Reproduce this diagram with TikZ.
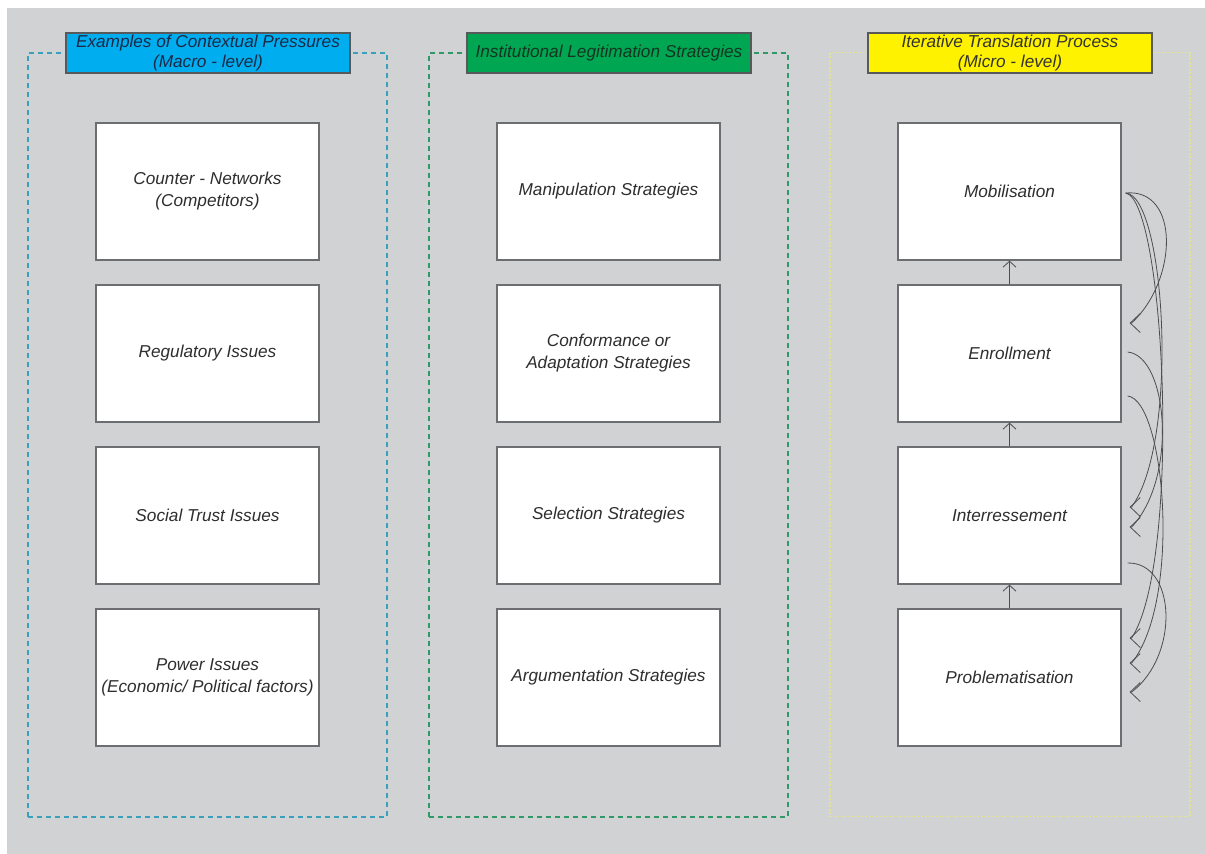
\documentclass[tikz,border=0pt]{standalone}
\usepackage{fontspec}
\setmainfont{Liberation Sans}
\usetikzlibrary{arrows.meta,calc}

\definecolor{panelgray}{HTML}{D1D2D4}
\definecolor{boxline}{HTML}{6D6E71}
\definecolor{headline}{HTML}{58595B}
\definecolor{hblue}{HTML}{00AEEF}
\definecolor{hgreen}{HTML}{00A651}
\definecolor{hyellow}{HTML}{FFF200}
\definecolor{fblue}{HTML}{3A9FBA}
\definecolor{fgreen}{HTML}{2F9A68}
\definecolor{fyellow}{HTML}{E4E394}
\definecolor{curvecol}{HTML}{4D4D4F}

\tikzset{
  stagebox/.style={draw=boxline, line width=1.3pt, fill=white,
    minimum width=223pt, minimum height=137pt, inner sep=0pt,
    align=center, font=\fontsize{17.2}{22}\selectfont\itshape, text=black!82},
  headbox/.style={draw=headline, line width=1.1pt,
    minimum width=284pt, minimum height=40pt, inner sep=0pt,
    align=center, font=\fontsize{17.2}{20}\selectfont\itshape},
  frame/.style={minimum width=#1, minimum height=764pt, inner sep=0pt},
  stepup/.style={draw=curvecol, line width=0.8pt,
    -{Straight Barb[length=6pt,width=13pt,line width=0.8pt]}},
  loopback/.style={draw=curvecol, line width=0.8pt,
    -{Straight Barb[length=10pt,width=19pt,line width=0.8pt]}}
}

\begin{document}
\begin{tikzpicture}[x=1pt,y=-1pt]
\useasboundingbox (0,0) rectangle (1205,854);
\fill[white] (0,0) rectangle (1205,854);
\fill[panelgray] (7,8) rectangle (1205,854);

% column frames
\node[frame=359pt, draw=fblue, dash pattern=on 5pt off 4pt, line width=1.1pt] (fa) at (207.5,435) {};
\node[frame=359pt, draw=fgreen, dash pattern=on 5pt off 4pt, line width=1.1pt] (fb) at (608.5,435) {};
\node[frame=360pt, draw=fyellow, dash pattern=on 2pt off 1.5pt, line width=1.4pt] (fc) at (1010,434.5) {};

% column headings
\node[headbox, fill=hblue, text={rgb,255:red,28;green,40;blue,70}] (ha) at (208,53)
  {Examples of Contextual Pressures\\(Macro - level)};
\node[headbox, fill=hgreen, text={rgb,255:red,22;green,52;blue,34}] (hb) at (609,53)
  {Institutional Legitimation Strategies};
\node[headbox, fill=hyellow, text=black!80] (hc) at (1010,53)
  {Iterative Translation Process\\(Micro - level)};

% contextual pressures
\node[stagebox] (cn) at (207.5,191.5) {Counter - Networks\\(Competitors)};
\node[stagebox] (rg) at (207.5,353.5) {Regulatory Issues};
\node[stagebox] (st) at (207.5,515.5) {Social Trust Issues};
\node[stagebox] (pw) at (207.5,677.5) {Power Issues\\(Economic/ Political factors)};

% legitimation strategies
\node[stagebox] (mn) at (608.5,191.5) {Manipulation Strategies};
\node[stagebox] (cf) at (608.5,353.5) {Conformance or\\Adaptation Strategies};
\node[stagebox] (sl) at (608.5,515.5) {Selection Strategies};
\node[stagebox] (ar) at (608.5,677.5) {Argumentation Strategies};

% translation process
\node[stagebox] (mob) at (1009.5,191.5) {Mobilisation};
\node[stagebox] (enr) at (1009.5,353.5) {Enrollment};
\node[stagebox] (int) at (1009.5,515.5) {Interressement};
\node[stagebox] (prb) at (1009.5,677.5) {Problematisation};

% forward steps
\draw[stepup] (prb.north) -- (int.south);
\draw[stepup] (int.north) -- (enr.south);
\draw[stepup] (enr.north) -- (mob.south);

% loop-back connectors: start points on the right side of the later stage
\coordinate (m0) at ($(mob.east)+(4,1.5)$);
\coordinate (e0) at ($(enr.east)+(6,-1.5)$);
\coordinate (e1) at ($(enr.east)+(6,42.5)$);
\coordinate (i0) at ($(int.east)+(6,47.5)$);
% end points on the right side of the earlier stage
\coordinate (eA) at ($(enr.east)+(8,-30.5)$);
\coordinate (iA) at ($(int.east)+(8,-8.5)$);
\coordinate (iB) at ($(int.east)+(8,11.5)$);
\coordinate (pA) at ($(prb.east)+(8,-39.5)$);
\coordinate (pB) at ($(prb.east)+(8,-14.5)$);
\coordinate (pC) at ($(prb.east)+(8,14.5)$);

% each arc ends in a short level stub so the open head lies flat
\draw[loopback] (m0) .. controls (1180,188) and (1178,280) .. ($(eA)+(2,0)$) -- (eA);
\draw[loopback] (m0) .. controls (1165,195) and (1180,440) .. ($(iA)+(2,0)$) -- (iA);
\draw[loopback] (m0) .. controls (1165,200) and (1182,560) .. ($(pA)+(2,0)$) -- (pA);
\draw[loopback] (e0) .. controls (1168,356) and (1178,478) .. ($(iB)+(2,0)$) -- (iB);
\draw[loopback] (e1) .. controls (1165,400) and (1182,600) .. ($(pB)+(2,0)$) -- (pB);
\draw[loopback] (i0) .. controls (1176,562) and (1180,655) .. ($(pC)+(2,0)$) -- (pC);
\end{tikzpicture}
\end{document}
